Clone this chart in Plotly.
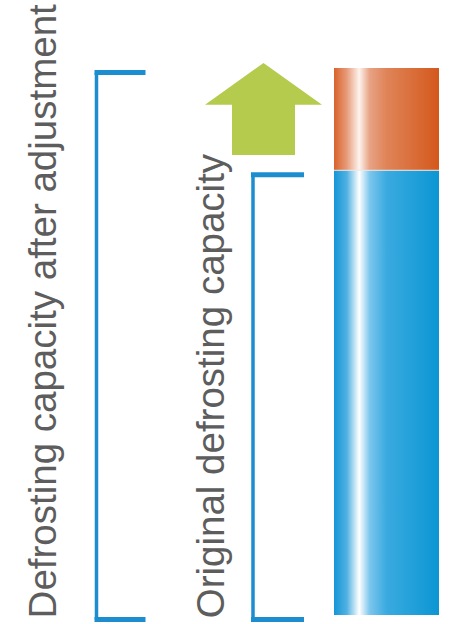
import plotly.graph_objects as go

# values (arbitrary capacity units)
labels = ["Original defrosting capacity", "Defrosting capacity after adjustment"]
original_capacity = 100
adjusted_capacity = 123
increase = adjusted_capacity - original_capacity

# bar position on the x axis (pixel-like layout axis)
bar_x = 386.5
bar_w = 105
x0, x1 = bar_x - bar_w / 2, bar_x + bar_w / 2

blue_scale = [[0, "#1596d6"], [0.12, "#4fb0e2"], [0.24, "#ffffff"], [0.34, "#7cc6ec"],
              [0.5, "#3aaae0"], [1, "#0b96d3"]]
orange_scale = [[0, "#d8622a"], [0.12, "#e79a78"], [0.24, "#fdf3ee"], [0.34, "#e7a284"],
                [0.5, "#df8458"], [1, "#d4581c"]]

fig = go.Figure()

fig.add_trace(go.Scatter(
    x=[x0, x1, x1, x0, x0], y=[0, 0, original_capacity, original_capacity, 0],
    mode="lines", fill="toself", line=dict(width=0),
    fillgradient=dict(type="horizontal", colorscale=blue_scale),
    hoverinfo="skip", showlegend=False))
fig.add_trace(go.Scatter(
    x=[x0, x1, x1, x0, x0],
    y=[original_capacity, original_capacity, adjusted_capacity, adjusted_capacity, original_capacity],
    mode="lines", fill="toself", line=dict(width=0),
    fillgradient=dict(type="horizontal", colorscale=orange_scale),
    hoverinfo="skip", showlegend=False))
# thin light seam between the two parts
fig.add_trace(go.Scatter(x=[x0, x1], y=[original_capacity, original_capacity], mode="lines",
                         line=dict(color="#e8e8e8", width=1), hoverinfo="skip", showlegend=False))

# brackets (shifted down a little like in the original)
off = -1.0
bcol = "#1c8dcf"
for xv, xh, top in [(96.5, 145.5, adjusted_capacity), (253, 304, original_capacity)]:
    fig.add_shape(type="line", x0=xv, x1=xv, y0=off, y1=top + off, line=dict(color=bcol, width=3.5))
    for yy in (off, top + off):
        fig.add_shape(type="line", x0=xv - 2, x1=xh, y0=yy, y1=yy, line=dict(color=bcol, width=5))

# up arrow showing the increase
ax = 263.5
a_bot = original_capacity + 0.15 * increase
a_wing = original_capacity + 0.64 * increase
a_tip = adjusted_capacity + 0.05 * increase
fig.add_shape(type="path",
              path=f"M {ax-31.5},{a_bot} L {ax+31.5},{a_bot} L {ax+31.5},{a_wing} L {ax+58.5},{a_wing} "
                   f"L {ax},{a_tip} L {ax-58.5},{a_wing} L {ax-31.5},{a_wing} Z",
              fillcolor="#b5cb4e", line=dict(width=0))

font = dict(family="Liberation Sans, Arial, sans-serif", size=38.5, color="#5d5d5d")
fig.add_annotation(x=42, y=0.501, yref="paper", text=labels[1], textangle=-90,
                   showarrow=False, font=font)
fig.add_annotation(x=210, y=0.381, yref="paper", text=labels[0], textangle=-90,
                   showarrow=False, font=font)

scale = 547 / adjusted_capacity
fig.update_xaxes(range=[0, 454], visible=False, fixedrange=True)
fig.update_yaxes(range=[-9 / scale, 615 / scale], visible=False, fixedrange=True)
fig.update_layout(width=454, height=624, margin=dict(l=0, r=0, t=0, b=0),
                  plot_bgcolor="white", paper_bgcolor="white")

fig.write_html("out.html", config={"displayModeBar": False},
               post_script="document.body.style.margin='0';")
